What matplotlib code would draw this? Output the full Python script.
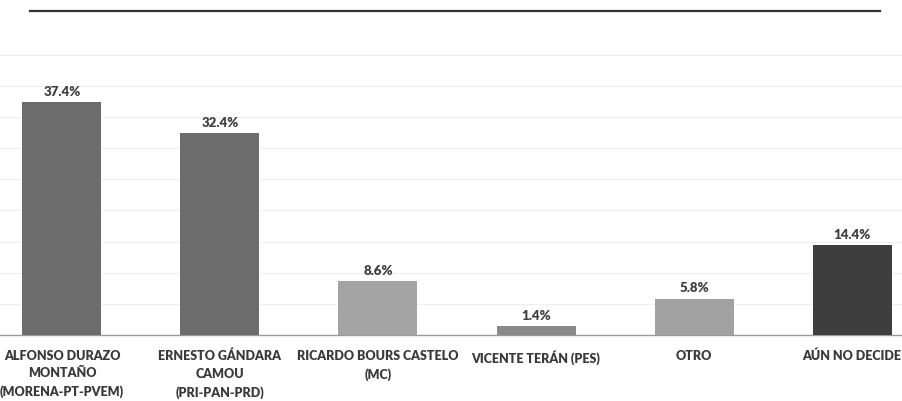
import numpy as np
import matplotlib
matplotlib.use("Agg")
import matplotlib.pyplot as plt

candidatos = ["ALFONSO DURAZO\nMONTAÑO\n(MORENA-PT-PVEM)",
              "ERNESTO GÁNDARA\nCAMOU\n(PRI-PAN-PRD)",
              "RICARDO BOURS CASTELO\n(MC)",
              "VICENTE TERÁN (PES)",
              "OTRO",
              "AÚN NO DECIDE"]
porcentajes = [37.4, 32.4, 8.6, 1.4, 5.8, 14.4]
etiquetas = ["37.4%", "32.4%", "8.6%", "1.4%", "5.8%", "14.4%"]
colores = ["#6c6c6c", "#6c6c6c", "#a4a4a4", "#8a8a8a", "#a2a2a2", "#3e3e3e"]

plt.rcParams['font.family'] = ['Lato', 'DejaVu Sans']

fig = plt.figure(figsize=(9.02, 4.02), dpi=100)
ax = fig.add_axes([0, 0.164, 1, 0.809])

x = np.arange(len(candidatos))
ax.bar(x, porcentajes, width=0.5, color=colores, zorder=3)

for xi, v, t in zip(x, porcentajes, etiquetas):
    ax.annotate(t, (xi, v), xytext=(0, 4), textcoords="offset points",
                ha="center", va="bottom", fontsize=9.5, fontweight="heavy",
                color="#404040")

ax.set_xlim(-0.392, 5.316)
ax.set_ylim(0, 52.2)
ax.set_yticks(np.arange(5, 50, 5))
ax.yaxis.grid(True, color="#efefef", linewidth=0.8, zorder=0)
ax.tick_params(axis="y", left=False, labelleft=False)
ax.set_xticks(x)
ax.set_xticklabels(candidatos, fontsize=9, fontweight="heavy", color="#3a3a3a",
                   linespacing=1.55, va="top")
ax.tick_params(axis="x", length=0, pad=10)

for s in ["left", "right", "top"]:
    ax.spines[s].set_visible(False)
ax.spines["bottom"].set_color("#9a9a9a")
ax.spines["bottom"].set_linewidth(1)

# línea superior oscura
ax.plot([-0.392 + 30 / 158, -0.392 + 880 / 158], [52.0, 52.0],
        color="#333333", linewidth=1.6, clip_on=False)

fig.savefig("out.png", dpi=100)
